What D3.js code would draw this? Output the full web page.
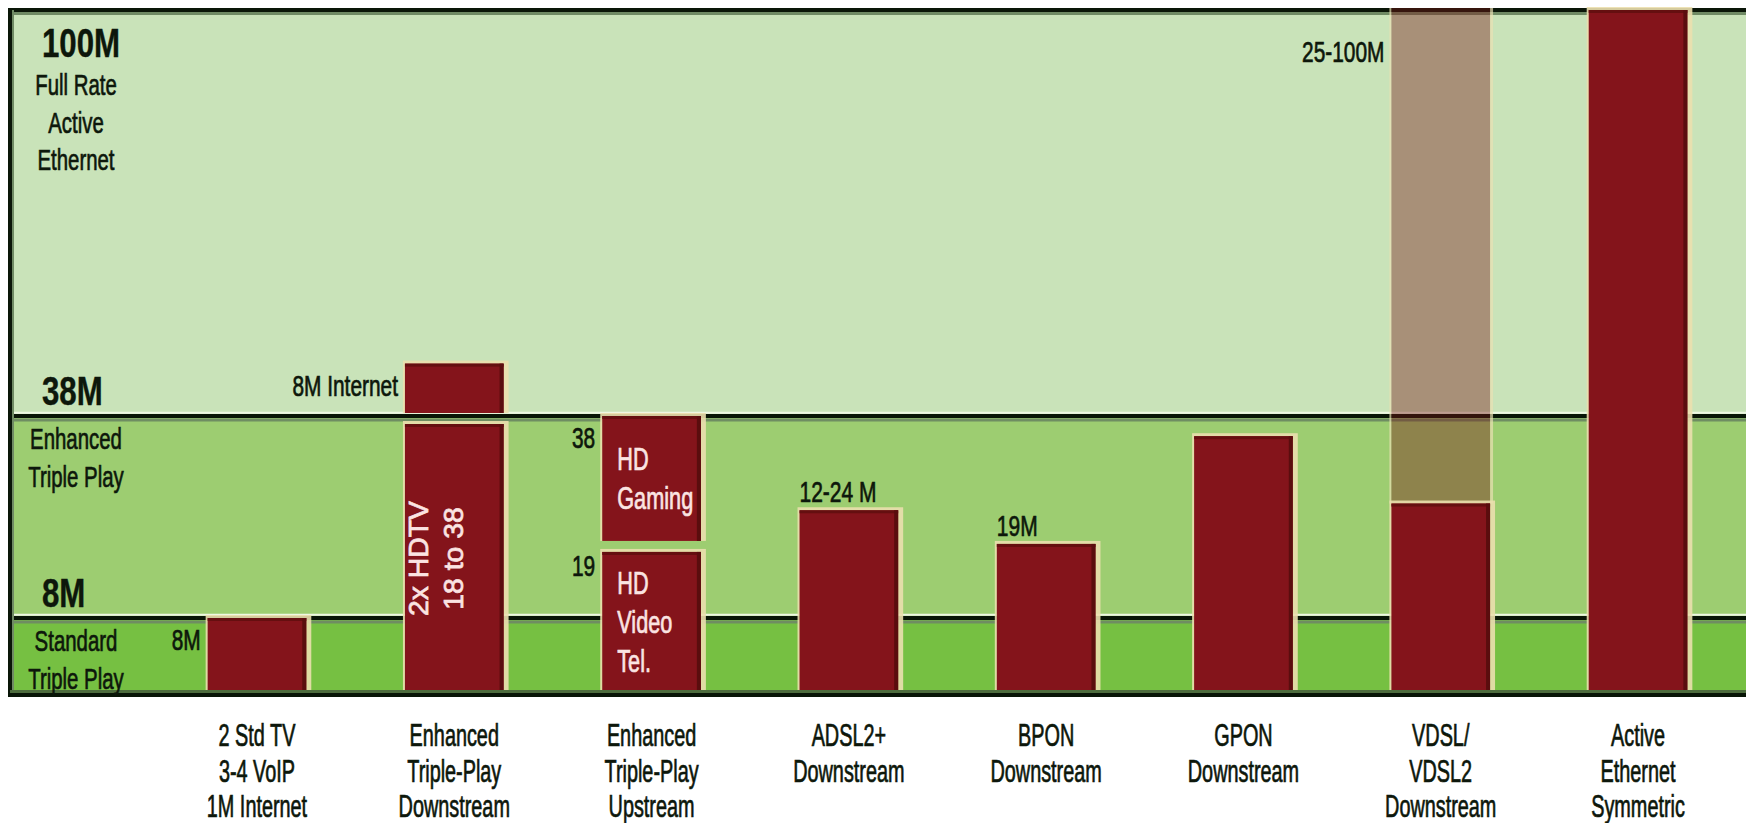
<!DOCTYPE html>
<html>
<head>
<meta charset="utf-8">
<script src="https://cdn.jsdelivr.net/npm/d3@7"></script>
<style>
  html, body { margin: 0; padding: 0; background: #ffffff; }
  svg { display: block; }
  text { font-family: "Liberation Sans", Arial, Helvetica, sans-serif; }
</style>
</head>
<body>
<svg id="chart" width="1746" height="823"></svg>
<script>
// ---- data ---------------------------------------------------------------
// service tiers (Mbit/s) marked on the left edge
const scaleStops = [0, 8, 38, 100];
const tierValues = [100, 38, 8];
const tierLabels = ["100M", "38M", "8M"];
const tierNotes = [
  ["Full Rate", "Active", "Ethernet"],
  ["Enhanced", "Triple Play"],
  ["Standard", "Triple Play"]
];

// services / access technologies (caption lines split on "\n")
const categories = [
  "2 Std TV\n3-4 VoIP\n1M Internet",
  "Enhanced\nTriple-Play\nDownstream",
  "Enhanced\nTriple-Play\nUpstream",
  "ADSL2+\nDownstream",
  "BPON\nDownstream",
  "GPON\nDownstream",
  "VDSL/\nVDSL2\nDownstream",
  "Active\nEthernet\nSymmetric"
];

// solid bar segments: category index, low and high value (Mbit/s)
const segCategory = [0, 1, 1, 2, 2, 3, 4, 5, 6, 7];
const segLow      = [0, 0, 38, 0, 19, 0, 0, 0, 0, 0];
const segHigh     = [8, 38, 46, 19, 38, 24, 19, 35, 25, 100];
const segText     = [[], ["2x HDTV", "18 to 38"], [], ["HD", "Video", "Tel."], ["HD", "Gaming"], [], [], [], [], []];
const segVertical = [false, true, false, false, false, false, false, false, false, false];

// faded range bars (achievable span)
const rangeCategory = [6];
const rangeLow      = [25];
const rangeHigh     = [100];

// value notes beside / above the bars
const noteText     = ["8M", "8M Internet", "38", "19", "12-24 M", "19M", "25-100M"];
const noteCategory = [0, 1, 2, 2, 3, 4, 6];
const noteValue    = [8, 46, 38, 19, 24, 19, 100];
const noteSide     = ["left", "left", "left", "left", "top", "top", "left"];

// ---- layout -------------------------------------------------------------
const W = 1746, H = 823;
const plotLeft = 10, plotRight = W;
const svg = d3.select("#chart");

const y = d3.scaleLinear().domain(scaleStops).range([693, 618, 416, 10]);
const x = d3.scaleBand().domain(categories).range([109, 1786])
  .paddingInner(0.5).paddingOuter(0.5);

const ink = "#0d170b";
const barFill = "#84141b";
const rangeFill = "#771416";
const bandFill = ["#76c042", "#9dcd71", "#c9e3b9"];

// condensed text helper (thin same-colour stroke gives a medium weight)
function label(g, str, px, py, o) {
  const fill = o.fill || ink;
  return g.append("text")
    .attr("transform", `translate(${px},${py}) rotate(${o.rotate || 0}) scale(${o.sx || 1},1)`)
    .attr("text-anchor", o.anchor || "start")
    .style("font-size", o.size + "px")
    .style("font-weight", o.weight || "normal")
    .attr("fill", fill)
    .attr("stroke", fill)
    .attr("stroke-width", o.weight === "bold" ? 0.4 : 0.7)
    .text(str);
}

svg.append("rect").attr("width", W).attr("height", H).attr("fill", "#ffffff");

// ---- tier bands ---------------------------------------------------------
const bands = svg.append("g");
d3.pairs(scaleStops).forEach(([lo, hi], i) => {
  const top = hi === 100 ? y(hi) - 2 : y(hi);
  bands.append("rect")
    .attr("x", plotLeft).attr("y", top)
    .attr("width", plotRight - plotLeft).attr("height", y(lo) - top)
    .attr("fill", bandFill[i]);
});

// tier separator lines
const rules = svg.append("g");
[8, 38].forEach(v => {
  const yy = y(v);
  rules.append("line").attr("x1", plotLeft).attr("x2", plotRight)
    .attr("y1", yy - 3.2).attr("y2", yy - 3.2).attr("stroke", "#eef7e3").attr("stroke-width", 2);
  rules.append("line").attr("x1", plotLeft).attr("x2", plotRight)
    .attr("y1", yy + 4).attr("y2", yy + 4).attr("stroke", "#6f8d62").attr("stroke-width", 3);
  rules.append("line").attr("x1", plotLeft).attr("x2", plotRight)
    .attr("y1", yy).attr("y2", yy).attr("stroke", "#081506").attr("stroke-width", 4);
});

// frame: top and left edges
rules.append("line").attr("x1", plotLeft).attr("x2", plotRight)
  .attr("y1", 13.5).attr("y2", 13.5).attr("stroke", "#6f8a64").attr("stroke-width", 3);
rules.append("line").attr("x1", 8).attr("x2", plotRight)
  .attr("y1", 10).attr("y2", 10).attr("stroke", "#0a1608").attr("stroke-width", 4);
rules.append("line").attr("x1", 13).attr("x2", 13)
  .attr("y1", 10).attr("y2", 697).attr("stroke", "#6f8a64").attr("stroke-width", 2);
rules.append("line").attr("x1", 10).attr("x2", 10)
  .attr("y1", 8).attr("y2", 697).attr("stroke", "#0a1608").attr("stroke-width", 4);

// ---- faded range bars ---------------------------------------------------
const ranges = svg.append("g");
rangeCategory.forEach((c, i) => {
  const bx = x(categories[c]), bw = x.bandwidth();
  const t = y(rangeHigh[i]) - 2, b = y(rangeLow[i]);
  ranges.append("rect").attr("x", bx - 2).attr("y", t).attr("width", 2).attr("height", b - t)
    .attr("fill", "#e9e0b4").attr("opacity", 0.7);
  ranges.append("rect").attr("x", bx + bw).attr("y", t).attr("width", 3).attr("height", b - t)
    .attr("fill", "#e9e0b4").attr("opacity", 0.7);
  ranges.append("rect").attr("x", bx).attr("y", t).attr("width", bw).attr("height", b - t)
    .attr("fill", rangeFill).attr("opacity", 0.4);
});

// ---- solid bars ---------------------------------------------------------
const bars = svg.append("g");
segCategory.forEach((c, i) => {
  const bx = x(categories[c]), bw = x.bandwidth();
  const lo = segLow[i], hi = segHigh[i];
  const stackedAbove = segCategory.some((cc, j) => j !== i && cc === c && segLow[j] === hi);
  const top = y(hi) + (stackedAbove ? 8 : 0);
  const bot = y(lo) - (lo > 0 ? 3 : 0);
  bars.append("rect").attr("x", bx - 2).attr("y", top - 3).attr("width", bw + 7).attr("height", bot - top + 3)
    .attr("fill", "#ebdfae").attr("opacity", 0.9);
  bars.append("rect").attr("x", bx).attr("y", top).attr("width", bw).attr("height", bot - top)
    .attr("fill", barFill);
  bars.append("rect").attr("x", bx).attr("y", top).attr("width", bw).attr("height", 3)
    .attr("fill", "#650f10");
  bars.append("rect").attr("x", bx + bw - 4).attr("y", top).attr("width", 4).attr("height", bot - top)
    .attr("fill", "#5a0d0e");

  const lines = segText[i];
  if (!lines.length) return;
  const cy = (top + bot) / 2;
  if (segVertical[i]) {
    lines.forEach((s, k) => {
      label(bars, s, bx + 23 + k * 35, cy, { size: 27, sx: 1.05, rotate: -90, anchor: "middle", fill: "#fbe4e2" });
    });
  } else {
    const lh = 39;
    const first = cy + 11 - (lines.length - 1) * lh / 2;
    lines.forEach((s, k) => {
      label(bars, s, bx + 15, first + k * lh, { size: 31, sx: 0.7, fill: "#fbe4e2" });
    });
  }
});

// bottom edge over the bar feet
svg.append("line").attr("x1", plotLeft).attr("x2", plotRight)
  .attr("y1", 691.5).attr("y2", 691.5).attr("stroke", "#4d6c3d").attr("stroke-width", 3);
svg.append("line").attr("x1", 8).attr("x2", plotRight)
  .attr("y1", 695).attr("y2", 695).attr("stroke", "#081506").attr("stroke-width", 4);

// ---- value notes --------------------------------------------------------
const notes = svg.append("g");
noteText.forEach((s, i) => {
  const bx = x(categories[noteCategory[i]]);
  const v = noteValue[i];
  if (noteSide[i] === "left") {
    const by = Math.max(y(v) + 32, y(100) + 52);
    label(notes, s, bx - 7, by, { size: 29, sx: 0.72, anchor: "end" });
  } else {
    label(notes, s, bx, y(v) - 8, { size: 30, sx: 0.7 });
  }
});

// ---- tier labels on the left -------------------------------------------
const tiers = svg.append("g");
tierValues.forEach((v, i) => {
  const base = v === 100 ? y(v) + 47 : y(v) - 11;
  label(tiers, tierLabels[i], 42, base, { size: 40, sx: 0.78, weight: "bold" });
  const first = v === 100 ? base + 38 : y(v) + 33;
  tierNotes[i].forEach((s, k) => {
    label(tiers, s, 76, first + k * 37.5, { size: 30, sx: 0.68, anchor: "middle" });
  });
});

// ---- category captions via a bottom axis --------------------------------
const axis = svg.append("g").attr("transform", "translate(0,697)")
  .call(d3.axisBottom(x).tickSize(0).tickFormat(""));
axis.select(".domain").remove();
axis.selectAll(".tick").each(function (d) {
  const g = d3.select(this);
  g.select("text").remove();
  d.split("\n").forEach((s, k) => {
    label(g, s, 0, 49 + k * 35.5, { size: 31, sx: 0.64, anchor: "middle" });
  });
});
</script>
</body>
</html>
